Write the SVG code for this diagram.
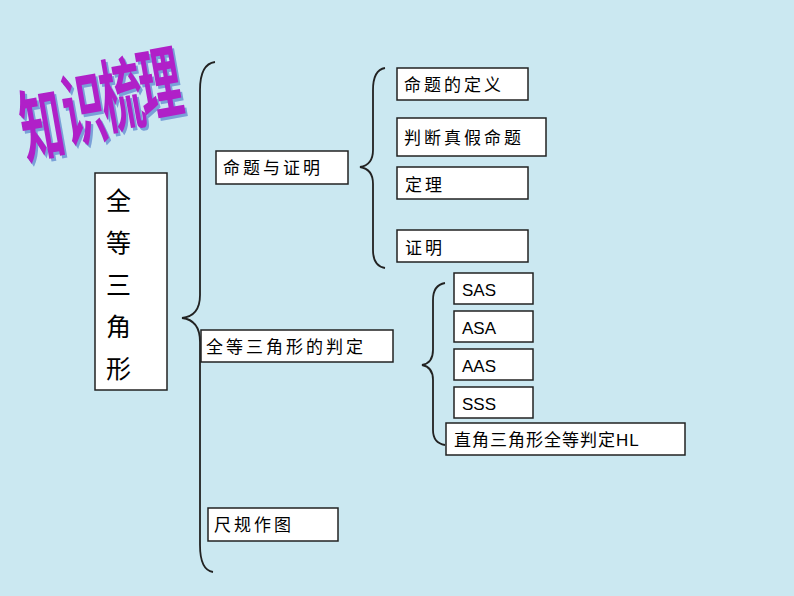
<svg xmlns="http://www.w3.org/2000/svg" width="794" height="596" viewBox="0 0 794 596">
<style>
.b{fill:#fff;stroke:#222;stroke-width:1.5}
.t{font-family:"Noto Sans CJK SC","DejaVu Sans",sans-serif;font-size:17px;letter-spacing:3px;fill:#000}
.e{font-family:"Liberation Sans",sans-serif;font-size:17px;fill:#000}
.br{fill:none;stroke:#222;stroke-width:1.8}
.ti{font-family:"Noto Sans CJK SC",sans-serif;font-size:50px;font-weight:bold}
.s{fill:#7aa0d8}.f{fill:#b020c8}
</style>
<rect width="794" height="596" fill="#cbe8f1"/>
<g id="title">
<g transform="translate(26,158) rotate(-10) scale(0.85,1.6)"><text class="ti s" x="2" y="2">知</text><text class="ti f">知</text></g>
<g transform="translate(68,142) rotate(-10) scale(0.85,1.6)"><text class="ti s" x="2" y="2">识</text><text class="ti f">识</text></g>
<g transform="translate(106,128) rotate(-10) scale(0.85,1.6)"><text class="ti s" x="2" y="2">梳</text><text class="ti f">梳</text></g>
<g transform="translate(144,116) rotate(-10) scale(0.85,1.6)"><text class="ti s" x="2" y="2">理</text><text class="ti f">理</text></g>
</g>
<g id="connectors">
<path class="br" d="M215,62 Q200,64 200,90 L200,295 Q200,316 182,318 Q200,320 200,342 L200,545 Q200,570 213,572"/>
<path class="br" d="M385,68 Q373,70 373,90 L373,150 Q373,165 360,167 Q373,169 373,184 L373,250 Q373,266 385,268"/>
<path class="br" d="M445,283 Q433,285 433,300 L433,350 Q433,363 422,365 Q433,367 433,380 L433,430 Q433,443 445,445"/>
</g>
<g id="n-main"><rect class="b" x="95" y="173" width="72" height="217"/>
<text class="t" x="106" y="210" style="font-size:25px">全</text>
<text class="t" x="106" y="252" style="font-size:25px">等</text>
<text class="t" x="106" y="294" style="font-size:25px">三</text>
<text class="t" x="106" y="336" style="font-size:25px">角</text>
<text class="t" x="106" y="378" style="font-size:25px">形</text></g>
<g id="n-mtzm"><rect class="b" x="216" y="151" width="132" height="33"/><text class="t" x="223" y="174">命题与证明</text></g>
<g id="n-pd"><rect class="b" x="201" y="330" width="192" height="32"/><text class="t" x="206" y="353">全等三角形的判定</text></g>
<g id="n-cg"><rect class="b" x="208" y="508" width="130" height="33"/><text class="t" x="214" y="531">尺规作图</text></g>
<g id="n-dy"><rect class="b" x="397" y="68" width="131" height="32"/><text class="t" x="404" y="91">命题的定义</text></g>
<g id="n-pdzj"><rect class="b" x="397" y="118" width="149" height="38"/><text class="t" x="404" y="144">判断真假命题</text></g>
<g id="n-dl"><rect class="b" x="397" y="167" width="131" height="32"/><text class="t" x="405" y="191">定理</text></g>
<g id="n-zm"><rect class="b" x="397" y="230" width="131" height="32"/><text class="t" x="405" y="254">证明</text></g>
<g id="n-sas"><rect class="b" x="454" y="273" width="79" height="31"/><text class="e" x="462" y="296">SAS</text></g>
<g id="n-asa"><rect class="b" x="454" y="311" width="79" height="31"/><text class="e" x="462" y="334">ASA</text></g>
<g id="n-aas"><rect class="b" x="454" y="349" width="79" height="31"/><text class="e" x="462" y="372">AAS</text></g>
<g id="n-sss"><rect class="b" x="454" y="387" width="79" height="31"/><text class="e" x="462" y="410">SSS</text></g>
<g id="n-hl"><rect class="b" x="446" y="423" width="239" height="32"/><text class="t" x="454" y="446" style="letter-spacing:1px">直角三角形全等判定<tspan style="font-family:'Liberation Sans',sans-serif">HL</tspan></text></g>
</svg>
